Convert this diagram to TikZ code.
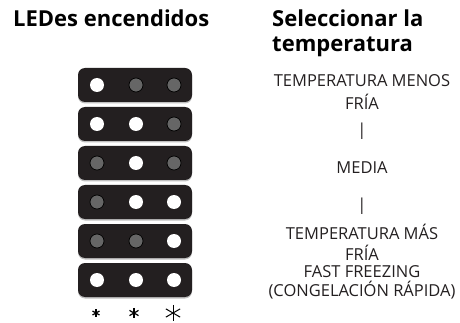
\documentclass[tikz,border=0pt]{standalone}
\usepackage{fontspec}
\setmainfont{Open Sans}
\usetikzlibrary{calc}
\begin{document}
\begin{tikzpicture}[x=1pt,y=-1pt,
  bar/.style={draw=none,fill=barcol,rounded corners=7pt,minimum width=114pt,minimum height=34pt,inner sep=0pt},
  shadowbar/.style={draw=none,fill=black!25,rounded corners=7pt,minimum width=114pt,minimum height=34pt,inner sep=0pt},
  ledon/.style={circle,fill=white,draw=none,minimum size=14pt,inner sep=0pt},
  ledoff/.style={circle,fill=ledgrey,draw=black,line width=0.7pt,minimum size=14pt,inner sep=0pt},
  title/.style={font=\bfseries\fontsize{22}{26}\selectfont,inner sep=0pt,anchor=base west},
  lab/.style={font=\fontsize{16.5}{19}\selectfont,text=textcol,inner sep=0pt,anchor=base},
  star/.style={line width=1.1pt,draw=black}
]
\definecolor{barcol}{HTML}{231F20}
\definecolor{ledgrey}{HTML}{666666}
\definecolor{textcol}{HTML}{231F20}
\useasboundingbox (0,0) rectangle (460,323);
% titles
\node[title] (t1) at (13,27) {LEDes encendidos};
\node[title] (t2a) at (272,27) {Seleccionar la};
\node[title] (t2b) at (272,52) {temperatura};
% right column
\node[lab] (r1) at (362,87) {TEMPERATURA MENOS};
\node[lab] (r2) at (362,110) {FRÍA};
\node[lab] (r3) at (362,136) {|};
\node[lab] (r4) at (362,174) {MEDIA};
\node[lab] (r5) at (362,211) {|};
\node[lab] (r6) at (362,239) {TEMPERATURA MÁS};
\node[lab] (r7) at (362,260) {FRÍA};
\node[lab] (r8) at (362,277) {FAST FREEZING};
\node[lab] (r9) at (362,296) {(CONGELACIÓN RÁPIDA)};
% bars
\foreach \i/\a/\b/\c in {1/ledon/ledoff/ledoff,2/ledon/ledon/ledoff,3/ledoff/ledon/ledoff,4/ledoff/ledon/ledon,5/ledoff/ledoff/ledon,6/ledon/ledon/ledon}{
  \pgfmathsetmacro{\yy}{68+39*(\i-1)+17}
  \node[shadowbar] (s\i) at (135,\yy+1.5) {};
  \node[bar] (b\i) at (135,\yy) {};
  \node[\a] (l\i a) at (97,\yy) {};
  \node[\b] (l\i b) at (136,\yy) {};
  \node[\c] (l\i c) at (174,\yy) {};
}
% asterisks
\foreach \n/\x/\r/\w in {1/96/4/1.2,2/134/5.2/1.2,3/173/8.2/1}{
  \coordinate (a\n) at (\x,313);
  \draw[star,line width=\w pt] ($(a\n)+(0,-\r)$) -- ($(a\n)+(0,\r)$);
  \draw[star,line width=\w pt] ($(a\n)+({\r*cos(30)},{-\r*sin(30)})$) -- ($(a\n)+({-\r*cos(30)},{\r*sin(30)})$);
  \draw[star,line width=\w pt] ($(a\n)+({-\r*cos(30)},{-\r*sin(30)})$) -- ($(a\n)+({\r*cos(30)},{\r*sin(30)})$);
}
\end{tikzpicture}
\end{document}
